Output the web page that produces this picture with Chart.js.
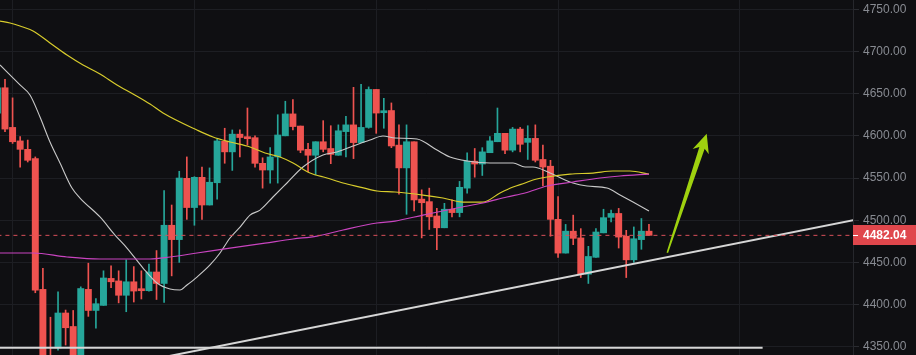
<!DOCTYPE html>
<html><head><meta charset="utf-8">
<script src="https://cdn.jsdelivr.net/npm/chart.js@4/dist/chart.umd.min.js"></script>
<style>html,body{margin:0;padding:0;background:#0f0f12;overflow:hidden}#wrap{width:916px;height:355px}</style>
</head><body><div id="wrap"><canvas id="c" width="916" height="355"></canvas></div>
<script>
// ---- data (candle index starts at -1) ----
const firstIndex = -1;
const opens  = [4627,4657,4610,4594,4584,4573,4418,4336,4348.5,4390,4374,4332,4418,4393,4399,4431,4428,4411,4427,4418.8,4416.4,4438.6,4425,4494,4477,4549.6,4515,4550.8,4518,4544.4,4593.5,4581,4602,4599,4597.8,4567.4,4559.5,4575,4600,4626,4611.6,4584,4577,4593,4585,4577,4605,4613,4592,4610,4655,4627.4,4630,4589,4562,4593,4525,4522,4505,4491,4513,4509,4538,4570,4566.6,4580,4593,4603,4583,4608,4592.3,4597,4572,4564,4501,4461,4487,4479,4436,4456,4485,4503.4,4508,4481,4453,4477,4487];
const highs  = [4660,4667,4645,4599,4595,4575,4443,4385,4415,4393.5,4393,4421,4449,4407,4440,4446,4440,4453,4445,4440,4448,4464,4535,4518,4558,4575,4551.6,4563,4562,4596,4609,4607,4607,4633,4600,4574,4586,4625,4641,4643,4611.6,4591,4593,4618,4612,4613,4623,4657.5,4661,4658,4655,4644.5,4639,4613,4613,4593,4536,4538,4514,4520,4524,4546,4580,4585,4586,4599,4633,4603,4610,4610,4612,4613,4589,4571,4528,4495,4506,4490,4469,4490,4513,4512,4514,4488,4492,4502,4495];
const lows   = [4620,4605,4591,4563,4569,4414,4322,4318,4346,4352,4320,4325,4386,4372,4399,4420,4402,4391.5,4403,4406.6,4416,4406,4402.6,4434,4450,4501,4494,4501,4518,4525,4567.5,4559,4575,4589,4563,4538,4544,4544,4600,4607,4580,4557.5,4554,4581,4567,4577,4575,4573,4592,4609,4603,4609,4586,4531,4507,4511,4479,4489,4465,4491,4504,4504,4532,4551,4553,4580,4593,4579,4581,4581,4572,4569,4540.5,4481,4456,4461,4471,4432,4425,4456,4485,4498,4467,4432,4450,4465.5,4482];
const closes = [4657,4608,4593,4584,4571,4417,4332,4326,4390,4372.5,4330,4419,4393,4401,4431.5,4427,4411,4427,4416,4416.4,4438.6,4425,4494,4477,4550,4515,4550.8,4518,4545,4594,4581,4602,4598,4596.6,4567.4,4559.5,4575,4601,4626,4611,4583,4577,4593,4584,4578,4606,4613,4592,4610,4655,4627,4629.8,4588,4562,4593,4524,4520.7,4504,4491,4513,4509,4539,4570,4566.6,4581,4594,4603,4583,4608,4590,4597,4571,4563,4501,4461,4487,4478.5,4436,4457,4486,4503,4508,4480,4453,4478,4487,4482.04];
const lastPrice = 4482.04;
const yTicks = [4350,4400,4450,4500,4550,4600,4650,4700,4750];
const xGridIdx = [1,25,49,73,97];

const maFastIdx = [-0.66,1.98,3.3,4.62,5.94,7.26,8.84,9.9,12.54,14.52,16.1,18.22,20.06,21.78,23.1,24.02,25.34,27.06,28.38,29.7,31.02,32.34,33.66,35.37,37.22,39.33,41.97,43.82,45.93,48.18,49.89,51.48,54.38,57.02,58.74,60.98,64.02,67.06,68.64,69.69,71.94,74.97,76.82,79.46,81.18,82.89,85];
const maFastVal = [4684,4660.3,4648.4,4622.3,4592.7,4567.8,4538.1,4526.3,4503.8,4482.4,4467,4443.3,4425.5,4418.4,4417.2,4423.2,4432.6,4446.9,4461.1,4478.9,4491.9,4506.1,4512,4527.5,4544.1,4563,4577.3,4580.8,4587.9,4595.1,4599.8,4597.4,4596.2,4583.2,4574.9,4570.2,4567.8,4567.8,4563,4563,4555.9,4544.1,4540.5,4538.1,4529.9,4521.5,4510.9];
const maMidIdx = [-0.66,0.66,1.98,3.7,5.94,8.18,10.3,12.54,14.78,16.9,19.14,20.86,25.34,27.46,29.7,32.34,34.32,36.3,38.02,40.26,42.5,44.62,46.86,49.1,51.48,55.17,57.81,60.45,63.09,65.34,67.06,68.64,69.69,71.54,74.58,77.61,80.25,82.5,85];
const maMidVal = [4736.1,4733.8,4730.2,4724.3,4710.1,4695.8,4684,4673.3,4660.3,4649.6,4637.7,4627.1,4606.9,4598.6,4592.7,4586.8,4579.6,4574.9,4567.8,4555.9,4550,4544.1,4539.3,4534.6,4533.4,4529.8,4526.3,4521.5,4521.5,4532.2,4539.3,4544.1,4547.6,4551.2,4554.7,4555.9,4558.3,4558.3,4554.7];
const maSlowIdx = [-0.66,3.7,8.18,12.54,17.16,19.14,21.78,25.34,29.7,34.32,38.02,41.18,44.62,49.1,51.48,55.17,59.66,63.09,66.26,68.64,71.54,74.97,78.54,81.18,85];
const maSlowVal = [4461.1,4461.1,4456.4,4454,4454,4454,4456.4,4461.1,4467,4472.9,4477.7,4481.2,4488.4,4496.7,4499,4506.1,4514.5,4520.4,4527.5,4532.2,4540.5,4545.3,4550,4552.4,4554.7];

const hLineIdx = [-1, 100];
const hLineVal = [4348.8, 4348.8];
const trendIdx = [20, 112];
const trendVal = [4336, 4500];
const arrowIdx = [87.42, 92.62];
const arrowVal = [4461.4, 4602.6];

const UP = '#26a69a', DOWN = '#ef5350';
const pts = (xs, ys) => xs.map((x, i) => ({x, y: ys[i]}));
const idx = opens.map((_, i) => i + firstIndex);
const colors = opens.map((o, i) => closes[i] >= o ? UP : DOWN);

const arrowPlugin = {
  id: 'arrow',
  afterDatasetsDraw(chart) {
    const {ctx, scales: {x, y}} = chart;
    const tx = x.getPixelForValue(arrowIdx[0]), ty = y.getPixelForValue(arrowVal[0]);
    const hx = x.getPixelForValue(arrowIdx[1]), hy = y.getPixelForValue(arrowVal[1]);
    const dx = hx - tx, dy = hy - ty, len = Math.hypot(dx, dy);
    const ux = dx / len, uy = dy / len, nx = -uy, ny = ux;
    const headLen = 17, headHalf = 8.5, shaftEnd = 2.8, shaftStart = 0.8;
    const bx = hx - ux * headLen, by = hy - uy * headLen;
    ctx.save();
    ctx.fillStyle = '#9fd10f';
    ctx.beginPath();
    ctx.moveTo(tx + nx * shaftStart, ty + ny * shaftStart);
    ctx.lineTo(bx + nx * shaftEnd + ux * 2, by + ny * shaftEnd + uy * 2);
    ctx.lineTo(bx + nx * headHalf - ux * 2, by + ny * headHalf - uy * 2);
    ctx.lineTo(hx, hy);
    ctx.lineTo(bx - nx * headHalf - ux * 2, by - ny * headHalf - uy * 2);
    ctx.lineTo(bx - nx * shaftEnd + ux * 2, by - ny * shaftEnd + uy * 2);
    ctx.lineTo(tx - nx * shaftStart, ty - ny * shaftStart);
    ctx.closePath();
    ctx.fill();
    ctx.restore();
  }
};
const priceTagPlugin = {
  id: 'priceTag',
  afterDraw(chart) {
    const {ctx, chartArea, scales: {y}} = chart;
    const py = Math.round(y.getPixelForValue(lastPrice));
    ctx.save();
    ctx.fillStyle = '#e0474c';
    ctx.fillRect(chartArea.right, py - 10, chart.width - chartArea.right, 20);
    ctx.strokeStyle = '#ffffff';
    ctx.lineWidth = 1;
    ctx.beginPath();
    ctx.moveTo(chartArea.right, py + 0.5);
    ctx.lineTo(chartArea.right + 5, py + 0.5);
    ctx.stroke();
    ctx.fillStyle = '#ffffff';
    ctx.font = "bold 12px 'Liberation Sans', Arial, sans-serif";
    ctx.textBaseline = 'middle';
    ctx.fillText(lastPrice.toFixed(2), chartArea.right + 10, py + 1);
    ctx.restore();
  }
};

Chart.defaults.font.family = "'Liberation Sans', Arial, sans-serif";
new Chart(document.getElementById('c'), {
  type: 'line',
  data: {
    datasets: [
      {type: 'bar', order: 3, grouped: false, data: idx.map((x, i) => ({x, y: [lows[i], highs[i]]})),
        backgroundColor: colors, barThickness: 1, borderWidth: 0},
      {type: 'bar', order: 2, grouped: false, data: idx.map((x, i) => ({x, y: [opens[i], closes[i]]})),
        backgroundColor: colors, barThickness: 6.3, borderWidth: 0, minBarLength: 1.5},
      {type: 'line', order: 1, data: pts(maSlowIdx, maSlowVal), borderColor: '#c944c0', borderWidth: 1.2, pointRadius: 0, cubicInterpolationMode: 'monotone'},
      {type: 'line', order: 1, data: pts(maMidIdx, maMidVal), borderColor: '#d8cc2c', borderWidth: 1.2, pointRadius: 0, cubicInterpolationMode: 'monotone'},
      {type: 'line', order: 1, data: pts(maFastIdx, maFastVal), borderColor: '#c9c9c9', borderWidth: 1.1, pointRadius: 0, cubicInterpolationMode: 'monotone'},
      {type: 'line', order: 0, data: pts([-1, 112], [lastPrice, lastPrice]), borderColor: '#d9505a', borderWidth: 1, borderDash: [4, 4], pointRadius: 0},
      {type: 'line', order: 0, data: pts(hLineIdx, hLineVal), borderColor: '#d6d6d6', borderWidth: 2, pointRadius: 0},
      {type: 'line', order: 0, data: pts(trendIdx, trendVal), borderColor: '#d6d6d6', borderWidth: 2, pointRadius: 0}
    ]
  },
  options: {
    responsive: false, animation: false,
    layout: {padding: 0},
    plugins: {legend: {display: false}, tooltip: {enabled: false}},
    scales: {
      x: {type: 'linear', min: -0.66, max: 111.93, offset: false, bounds: 'ticks',
        afterBuildTicks: s => { s.ticks = xGridIdx.map(v => ({value: v})); },
        afterFit: s => { s.height = 0; s.paddingLeft = 0; s.paddingRight = 0; },
        ticks: {display: false}, border: {display: false},
        grid: {color: '#1d1e23', drawTicks: false, offset: false}},
      y: {type: 'linear', position: 'right', min: 4340.2, max: 4761.03,
        afterBuildTicks: s => { s.ticks = yTicks.map(v => ({value: v})); },
        afterFit: s => { s.width = 63; s.paddingTop = 0; s.paddingBottom = 0; },
        border: {display: true, color: '#26272c'},
        grid: {color: '#1d1e23', tickLength: 6, tickColor: '#2a2b30'},
        ticks: {color: '#888b92', font: {size: 12}, padding: 4, callback: v => v.toFixed(2)}}
    }
  },
  plugins: [arrowPlugin, priceTagPlugin]
});
</script></body></html>
